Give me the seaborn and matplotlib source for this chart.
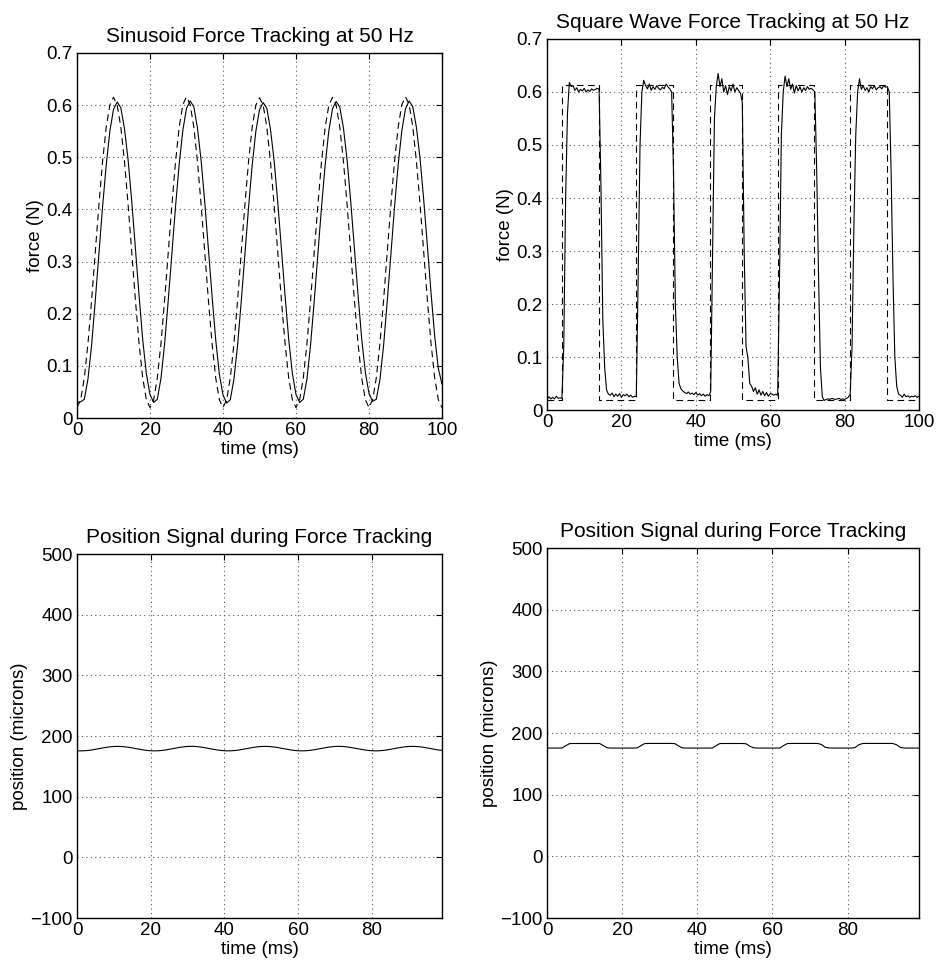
import numpy as np
import pandas as pd
import seaborn as sns
import matplotlib.pyplot as plt

# --- sinusoid tracking, sampled every 1 ms (0..100) ---
sine_ref = [0.020, 0.035, 0.077, 0.143, 0.226, 0.318, 0.409, 0.492, 0.558, 0.600,
            0.615, 0.600, 0.558, 0.492, 0.409, 0.318, 0.226, 0.143, 0.077, 0.035,
            0.020, 0.035, 0.077, 0.143, 0.226, 0.318, 0.409, 0.492, 0.558, 0.601,
            0.616, 0.601, 0.558, 0.492, 0.409, 0.318, 0.226, 0.143, 0.077, 0.035,
            0.020, 0.035, 0.077, 0.143, 0.226, 0.318, 0.409, 0.492, 0.558, 0.600,
            0.614, 0.600, 0.558, 0.492, 0.409, 0.318, 0.226, 0.143, 0.077, 0.035,
            0.020, 0.035, 0.077, 0.143, 0.226, 0.318, 0.409, 0.492, 0.558, 0.600,
            0.615, 0.600, 0.558, 0.492, 0.409, 0.318, 0.226, 0.143, 0.077, 0.035,
            0.020, 0.035, 0.077, 0.143, 0.226, 0.318, 0.409, 0.492, 0.558, 0.601,
            0.616, 0.601, 0.558, 0.492, 0.409, 0.318, 0.226, 0.143, 0.077, 0.035,
            0.020]
sine_meas = [0.030, 0.031, 0.036, 0.075, 0.140, 0.225, 0.315, 0.405, 0.485, 0.550,
             0.592, 0.606, 0.595, 0.555, 0.495, 0.415, 0.325, 0.235, 0.150, 0.085,
             0.045, 0.030, 0.036, 0.076, 0.142, 0.226, 0.316, 0.406, 0.487, 0.552,
             0.594, 0.608, 0.597, 0.556, 0.494, 0.414, 0.324, 0.234, 0.150, 0.084,
             0.044, 0.029, 0.035, 0.075, 0.140, 0.224, 0.314, 0.404, 0.485, 0.550,
             0.591, 0.605, 0.594, 0.554, 0.494, 0.414, 0.325, 0.235, 0.151, 0.086,
             0.045, 0.030, 0.036, 0.075, 0.141, 0.225, 0.315, 0.405, 0.486, 0.551,
             0.593, 0.607, 0.596, 0.556, 0.495, 0.415, 0.325, 0.236, 0.152, 0.088,
             0.047, 0.032, 0.036, 0.074, 0.139, 0.224, 0.314, 0.405, 0.486, 0.551,
             0.593, 0.608, 0.597, 0.557, 0.497, 0.418, 0.330, 0.240, 0.157, 0.095,
             0.065]

# --- square wave tracking: reference steps + measured force every 0.5 ms ---
sq_edges = [0, 4.0, 14.1, 23.8, 33.8, 43.9, 52.5, 62.0, 71.9, 81.4, 91.5, 100]
sq_levels = [0.018, 0.613, 0.018, 0.613, 0.018, 0.613, 0.018, 0.613, 0.018, 0.613, 0.018, 0.018]
sq_meas = [0.020, 0.025, 0.021, 0.024, 0.021, 0.026, 0.022, 0.023, 0.022,
           0.120, 0.400, 0.560, 0.618,
           0.610, 0.612, 0.603, 0.608, 0.600, 0.605, 0.602, 0.607, 0.600, 0.604, 0.601, 0.606, 0.603, 0.605, 0.607,
           0.605, 0.420, 0.170, 0.080, 0.038, 0.030,
           0.028, 0.032, 0.025, 0.030, 0.026, 0.031, 0.024, 0.029, 0.027, 0.030, 0.025, 0.028, 0.024, 0.026,
           0.025, 0.250, 0.500, 0.600, 0.622,
           0.612, 0.606, 0.615, 0.603, 0.610, 0.605, 0.612, 0.607, 0.604, 0.609, 0.606, 0.615, 0.610, 0.606,
           0.600, 0.450, 0.200, 0.100, 0.050, 0.040,
           0.036, 0.033, 0.031, 0.034, 0.030, 0.032, 0.029, 0.033, 0.028, 0.031, 0.027, 0.030, 0.026, 0.029, 0.027,
           0.035, 0.300, 0.550, 0.610, 0.635,
           0.610, 0.625, 0.600, 0.612, 0.595, 0.610, 0.602, 0.615, 0.600, 0.608, 0.603, 0.598,
           0.580, 0.300, 0.120, 0.098, 0.050,
           0.045, 0.035, 0.042, 0.030, 0.038, 0.028, 0.035, 0.027, 0.033, 0.026, 0.031, 0.030, 0.028, 0.030,
           0.028, 0.250, 0.520, 0.600, 0.630,
           0.610, 0.625, 0.605, 0.615, 0.598, 0.612, 0.602, 0.610, 0.600, 0.608, 0.603, 0.610, 0.605, 0.607, 0.604,
           0.600, 0.450, 0.250, 0.080, 0.025, 0.018,
           0.020, 0.021, 0.020, 0.022, 0.021, 0.020, 0.021, 0.022, 0.020, 0.021, 0.020, 0.022, 0.024,
           0.030, 0.120, 0.350, 0.520, 0.600, 0.625,
           0.605, 0.612, 0.603, 0.608, 0.600, 0.610, 0.606, 0.612, 0.604, 0.608, 0.610, 0.606, 0.612, 0.609, 0.610,
           0.600, 0.450, 0.250, 0.100, 0.045, 0.030,
           0.028, 0.024, 0.030, 0.025, 0.027, 0.024, 0.026, 0.025, 0.027, 0.024, 0.026]

# --- position signals, sampled every 1 ms (0..99) ---
pos_sine = [175.7, 175.5, 175.7, 176.2, 177.0, 178.1, 179.2, 180.3, 181.4, 182.2,
            182.7, 182.9, 182.7, 182.2, 181.4, 180.3, 179.2, 178.1, 177.0, 176.2,
            175.7, 175.5, 175.7, 176.2, 177.0, 178.1, 179.2, 180.3, 181.4, 182.2,
            182.8, 183.0, 182.8, 182.2, 181.4, 180.3, 179.2, 178.1, 177.0, 176.2,
            175.7, 175.5, 175.7, 176.2, 177.0, 178.1, 179.2, 180.3, 181.4, 182.2,
            182.7, 182.9, 182.7, 182.2, 181.4, 180.3, 179.2, 178.1, 177.0, 176.2,
            175.7, 175.5, 175.7, 176.2, 177.0, 178.1, 179.2, 180.3, 181.4, 182.2,
            182.8, 183.0, 182.8, 182.2, 181.4, 180.3, 179.2, 178.1, 177.0, 176.2,
            175.7, 175.5, 175.7, 176.2, 177.0, 178.1, 179.2, 180.3, 181.4, 182.2,
            182.7, 182.9, 182.7, 182.2, 181.4, 180.3, 179.2, 178.1, 177.0, 176.2]
pos_square = [175.6, 175.6, 175.6, 175.6, 175.7, 179.5, 182.8, 183.0, 183.0, 183.0,
              183.0, 183.0, 183.0, 183.0, 183.0, 179.5, 176.0, 175.6, 175.6, 175.6,
              175.6, 175.6, 175.6, 175.6, 175.8, 179.5, 182.9, 183.1, 183.1, 183.1,
              183.1, 183.1, 183.1, 183.1, 182.8, 179.0, 176.0, 175.6, 175.6, 175.6,
              175.6, 175.6, 175.6, 175.6, 175.7, 179.5, 182.9, 183.0, 183.0, 183.0,
              183.0, 183.0, 183.0, 182.5, 178.5, 176.0, 175.6, 175.6, 175.6, 175.6,
              175.6, 175.6, 175.7, 179.8, 183.0, 183.1, 183.1, 183.1, 183.1, 183.1,
              183.1, 183.1, 183.1, 181.5, 177.0, 175.8, 175.6, 175.6, 175.6, 175.6,
              175.6, 175.6, 176.5, 181.0, 183.0, 183.1, 183.1, 183.1, 183.1, 183.1,
              183.1, 183.1, 183.1, 181.0, 176.8, 175.6, 175.6, 175.6, 175.6, 175.6]

force_ticks = [0, 0.1, 0.2, 0.3, 0.4, 0.5, 0.6, 0.7]
force_labels = ["0", "0.1", "0.2", "0.3", "0.4", "0.5", "0.6", "0.7"]
pos_ticks = [-100, 0, 100, 200, 300, 400, 500]
time_ticks_full = [0, 20, 40, 60, 80, 100]
time_ticks_pos = [0, 20, 40, 60, 80]

sine_df = pd.DataFrame({"t": np.arange(len(sine_ref)), "ref": sine_ref, "meas": sine_meas})
sq_df = pd.DataFrame({"t": np.arange(len(sq_meas)) * 0.5, "meas": sq_meas})
pos_df = pd.DataFrame({"t": np.arange(len(pos_sine)), "sine": pos_sine, "square": pos_square})

sns.set_style("white")
plt.rcParams["font.family"] = ["Liberation Sans", "DejaVu Sans"]
plt.rcParams["axes.unicode_minus"] = True
plt.rcParams["text.color"] = "black"
plt.rcParams["axes.labelcolor"] = "black"
plt.rcParams["xtick.color"] = "black"
plt.rcParams["ytick.color"] = "black"

fig = plt.figure(figsize=(9.37, 9.65), dpi=100)
ax_tl = fig.add_axes([0.0822, 0.5668, 0.3895, 0.3783])
ax_tr = fig.add_axes([0.5838, 0.5751, 0.3970, 0.3845])
ax_bl = fig.add_axes([0.0822, 0.0487, 0.3895, 0.3772])
ax_br = fig.add_axes([0.5838, 0.0487, 0.3970, 0.3834])

line_kw = dict(color="black", linewidth=0.8, estimator=None, sort=False)
dash = (0, (6, 4))

sns.lineplot(data=sine_df, x="t", y="ref", ax=ax_tl, linestyle=dash, **line_kw)
sns.lineplot(data=sine_df, x="t", y="meas", ax=ax_tl, **line_kw)

sns.lineplot(x=sq_edges, y=sq_levels, ax=ax_tr, linestyle=dash, drawstyle="steps-post", **line_kw)
sns.lineplot(data=sq_df, x="t", y="meas", ax=ax_tr, **line_kw)

sns.lineplot(data=pos_df, x="t", y="sine", ax=ax_bl, **line_kw)
sns.lineplot(data=pos_df, x="t", y="square", ax=ax_br, **line_kw)


def style_axes(ax, title, ylabel, xticks, xlim, yticks, ylim, yticklabels=None):
    ax.set_xlim(*xlim)
    ax.set_ylim(*ylim)
    ax.set_xticks(xticks)
    ax.set_yticks(yticks)
    if yticklabels is not None:
        ax.set_yticklabels(yticklabels)
    ax.set_title(title, fontsize=15, pad=8, color="black")
    ax.set_xlabel("time (ms)", fontsize=13.5, labelpad=1)
    ax.set_ylabel(ylabel, fontsize=13.5, labelpad=2)
    ax.tick_params(direction="in", length=4, width=0.8, top=True, right=True,
                   labelsize=13.5, pad=3, colors="black")
    ax.grid(True, color="0.35", linestyle=(0, (1, 3)), linewidth=0.8)
    for sp in ax.spines.values():
        sp.set_visible(True)
        sp.set_color("black")
        sp.set_linewidth(1.0)


style_axes(ax_tl, "Sinusoid Force Tracking at 50 Hz", "force (N)",
           time_ticks_full, (0, 100), force_ticks, (0, 0.7), force_labels)
style_axes(ax_tr, "Square Wave Force Tracking at 50 Hz", "force (N)",
           time_ticks_full, (0, 100), force_ticks, (0, 0.7), force_labels)
style_axes(ax_bl, "Position Signal during Force Tracking", "position (microns)",
           time_ticks_pos, (0, 99), pos_ticks, (-100, 500))
style_axes(ax_br, "Position Signal during Force Tracking", "position (microns)",
           time_ticks_pos, (0, 99), pos_ticks, (-100, 500))

fig.savefig("out.png", dpi=100, facecolor="white")
